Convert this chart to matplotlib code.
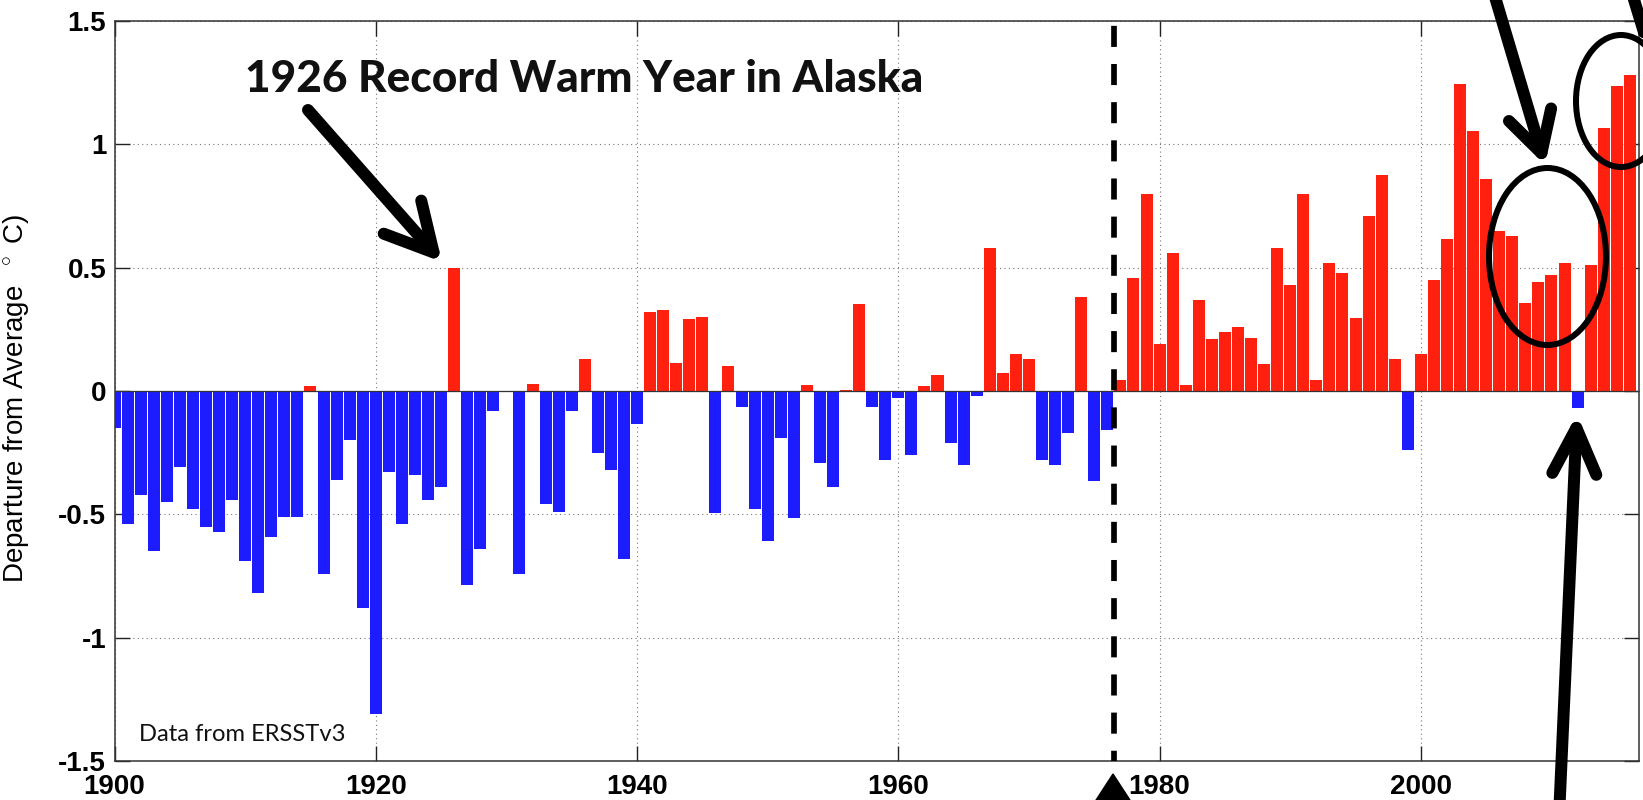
import numpy as np
import matplotlib
matplotlib.use('Agg')
import matplotlib.pyplot as plt
from matplotlib import font_manager as fm
from matplotlib.patches import FancyArrowPatch, Ellipse, Polygon
from matplotlib.transforms import Affine2D
from matplotlib.lines import Line2D

# ---------------- data ----------------
years = list(range(1900, 2017))
anomaly = [
    -0.15, -0.54, -0.42, -0.65, -0.45, -0.31, -0.48, -0.55, -0.57, -0.44,   # 1900s
    -0.69, -0.82, -0.59, -0.51, -0.51, 0.02, -0.74, -0.36, -0.20, -0.88,    # 1910s
    -1.31, -0.33, -0.54, -0.34, -0.44, -0.39, 0.50, -0.785, -0.64, -0.08,   # 1920s
    0.00, -0.74, 0.03, -0.46, -0.49, -0.08, 0.13, -0.25, -0.32, -0.68,      # 1930s
    -0.135, 0.32, 0.33, 0.115, 0.29, 0.30, -0.495, 0.10, -0.065, -0.48,     # 1940s
    -0.61, -0.19, -0.515, 0.023, -0.29, -0.39, 0.005, 0.354, -0.065, -0.28, # 1950s
    -0.03, -0.26, 0.022, 0.064, -0.21, -0.30, -0.02, 0.58, 0.073, 0.15,     # 1960s
    0.128, -0.28, -0.30, -0.17, 0.38, -0.366, -0.16, 0.045, 0.46, 0.80,     # 1970s
    0.19, 0.56, 0.024, 0.37, 0.21, 0.24, 0.26, 0.216, 0.11, 0.58,           # 1980s
    0.43, 0.80, 0.045, 0.52, 0.48, 0.295, 0.71, 0.876, 0.13, -0.24,         # 1990s
    0.15, 0.45, 0.615, 1.243, 1.054, 0.86, 0.65, 0.63, 0.355, 0.44,         # 2000s
    0.47, 0.52, -0.07, 0.51, 1.065, 1.236, 1.28,                            # 2010s
]
xtick_values = [1900, 1920, 1940, 1960, 1980, 2000]
ytick_values = [-1.5, -1, -0.5, 0, 0.5, 1, 1.5]
ytick_labels = ['-1.5', '-1', '-0.5', '0', '0.5', '1', '1.5']
regime_shift_year = 1976.5
annotation_text = '1926 Record Warm Year in Alaska'
source_text = 'Data from ERSSTv3'
ylabel_text = r'Departure from Average  $^\circ$ C)'

# ---------------- fonts ----------------
def has_font(name):
    try:
        fm.findfont(fm.FontProperties(family=name), fallback_to_default=False)
        return True
    except Exception:
        return False

narrow = 'Open Sans'
for cand in ('Liberation Sans Narrow', 'Lato'):
    if has_font(cand):
        narrow = cand
        break
plt.rcParams['font.family'] = ['Liberation Sans', 'DejaVu Sans']
plt.rcParams['mathtext.fontset'] = 'custom'
plt.rcParams['mathtext.rm'] = 'Liberation Sans'

RED = '#ff2010'
BLUE = '#1c1cff'

W, H = 1643, 800
fig = plt.figure(figsize=(W / 100, H / 100), dpi=100)
ax_left, ax_right, ax_top, ax_bot = 114.5, 1639, 21, 761
ax = fig.add_axes([ax_left / W, 1 - ax_bot / H, (ax_right - ax_left) / W, (ax_bot - ax_top) / H])

colors = [RED if v >= 0 else BLUE for v in anomaly]
ax.bar(years, anomaly, width=0.92, color=colors, edgecolor='none', zorder=2)
ax.axhline(0, color='#333333', lw=0.9, zorder=3)

ax.set_xlim(1900, 2016.7)
ax.set_ylim(-1.5, 1.5)
ax.set_xticks(xtick_values)
ax.set_xticklabels([str(v) for v in xtick_values])
ax.set_yticks(ytick_values)
ax.set_yticklabels(ytick_labels)
ax.grid(True, color='#777777', linestyle=(0, (1, 3)), linewidth=0.8, zorder=0)
ax.set_axisbelow(True)
ax.tick_params(direction='in', top=True, right=True, length=11, width=1, color='#222222',
               labelsize=20)
ax.tick_params(axis='x', pad=9)
ax.tick_params(axis='y', pad=6)
for lab in ax.get_xticklabels() + ax.get_yticklabels():
    lab.set_fontweight('bold')
for sp in ax.spines.values():
    sp.set_linewidth(1.1)
    sp.set_color('#333333')

ax.set_ylabel(ylabel_text, fontsize=20)
ax.yaxis.set_label_coords((32 - ax_left) / (ax_right - ax_left), 0.49)

# regime shift dashed line
ax.axvline(regime_shift_year, color='black', lw=4.1, linestyle=(1.9, (3.7, 3.0)), zorder=4)

# ---------------- overlays in image pixel coordinates ----------------
P = Affine2D().scale(1 / W, -1 / H).translate(0, 1) + fig.transFigure
pt = 0.72  # px -> pt at 100 dpi

def open_arrow(p0, p1, lw_px=12, hl_px=47, hw_px=25):
    a = FancyArrowPatch(p0, p1, transform=P,
                        arrowstyle=f'->,head_length={hl_px * pt},head_width={hw_px * pt}',
                        mutation_scale=1, lw=lw_px * pt, color='black',
                        capstyle='round', joinstyle='round', shrinkA=0, shrinkB=0,
                        clip_on=False, zorder=10)
    fig.add_artist(a)

open_arrow((308, 110), (442, 262))
open_arrow((1487, -30), (1545, 165), lw_px=12, hl_px=40, hw_px=22)
open_arrow((1558, 840), (1577, 414), lw_px=12, hl_px=46, hw_px=22)

fig.add_artist(Line2D([1625, 1657], [-30, 75], transform=P, lw=12 * pt, color='black',
                      solid_capstyle='round', zorder=10))

fig.add_artist(Ellipse((1547.5, 256.5), 117, 177, transform=P, fill=False,
                       lw=6 * pt, ec='black', zorder=10))
fig.add_artist(Ellipse((1621, 101), 90, 132, transform=P, fill=False,
                       lw=6 * pt, ec='black', zorder=10))

fig.add_artist(Polygon([(1113, 774), (1087, 814), (1139, 814)], closed=True,
                       transform=P, fc='black', ec='black', zorder=10))

# ---------------- texts ----------------
t1 = fig.text(245 / W, 1 - 92 / H, annotation_text, fontsize=34, fontweight='black',
              family=[narrow, 'DejaVu Sans'], ha='left', va='baseline', color='#111111')
t2 = fig.text(139 / W, 1 - 741 / H, source_text, fontsize=15,
              family=[narrow, 'DejaVu Sans'], ha='left', va='baseline', color='#111111')

fig.canvas.draw()
r = fig.canvas.get_renderer()
for t, target in ((t1, 680), (t2, 207)):
    w = t.get_window_extent(r).width
    t.set_fontsize(t.get_fontsize() * target / w)

fig.savefig('out.png', dpi=100)
